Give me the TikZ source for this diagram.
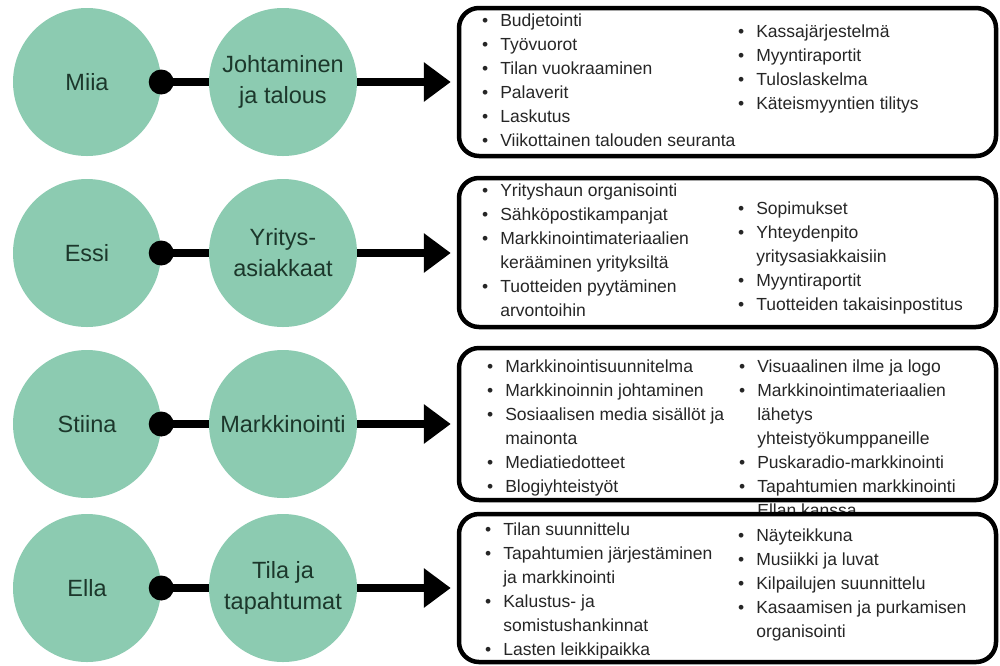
\documentclass[tikz,border=0pt]{standalone}
\usepackage{fontspec}
\setmainfont{Liberation Sans}
\usetikzlibrary{arrows.meta}
\definecolor{mint}{HTML}{8CCBB1}
\definecolor{circtext}{HTML}{1C372B}
\definecolor{listtext}{HTML}{262626}
\newcommand{\itm}[1]{\textbullet & #1\\}
\newcommand{\cnt}[1]{ & #1\\}
\newenvironment{blist}{\begin{tabular}[t]{@{}l@{\hspace{12pt}}l@{}}}{\end{tabular}}
\begin{document}
\begin{tikzpicture}[x=1pt,y=-1pt,
  person/.style={circle,fill=mint,minimum size=148pt,inner sep=0pt,text=circtext,
    font=\fontsize{23.5}{31}\selectfont,align=center},
  task/.style={person},
  listbox/.style={draw=black,line width=4.5pt,rounded corners=20pt,fill=white,minimum width=537pt},
  lst/.style={anchor=base west,inner sep=0pt,text=listtext,font=\fontsize{17.5}{24}\selectfont},
  link/.style={line width=8.5pt},
  arr/.style={line width=8.5pt,-{Triangle[length=27pt,width=38pt]},shorten >=6pt}]
\useasboundingbox (0,0) rectangle (1000,665);
\fill[white] (0,0) rectangle (1000,665);

% row 1
\node[person] (m1) at (87,82) {Miia};
\node[task] (j1) at (283,82) {Johtaminen\\ja talous};
\node[listbox,minimum height=148pt] (b1) at (727.5,82) {};
\draw[link] (m1.east) -- (j1.west);
\fill (m1.east) circle (12.5pt);
\draw[arr] (j1.east) -- (j1.east -| b1.west);
\node[lst] (b1l) at (482,26) {\begin{blist}
\itm{Budjetointi}
\itm{Työvuorot}
\itm{Tilan vuokraaminen}
\itm{Palaverit}
\itm{Laskutus}
\itm{Viikottainen talouden seuranta}
\end{blist}};
\node[lst] (b1r) at (738,37) {\begin{blist}
\itm{Kassajärjestelmä}
\itm{Myyntiraportit}
\itm{Tuloslaskelma}
\itm{Käteismyyntien tilitys}
\end{blist}};

% row 2
\node[person] (m2) at (87,253) {Essi};
\node[task] (j2) at (283,253) {Yritys-\\asiakkaat};
\node[listbox,minimum height=149pt] (b2) at (727.5,252.5) {};
\draw[link] (m2.east) -- (j2.west);
\fill (m2.east) circle (12.5pt);
\draw[arr] (j2.east) -- (j2.east -| b2.west);
\node[lst] (b2l) at (482,196) {\begin{blist}
\itm{Yrityshaun organisointi}
\itm{Sähköpostikampanjat}
\itm{Markkinointimateriaalien}
\cnt{kerääminen yrityksiltä}
\itm{Tuotteiden pyytäminen}
\cnt{arvontoihin}
\end{blist}};
\node[lst] (b2r) at (738,214) {\begin{blist}
\itm{Sopimukset}
\itm{Yhteydenpito}
\cnt{yritysasiakkaisiin}
\itm{Myyntiraportit}
\itm{Tuotteiden takaisinpostitus}
\end{blist}};

% row 3
\node[person] (m3) at (87,424) {Stiina};
\node[task] (j3) at (283,424) {Markkinointi};
\node[listbox,minimum height=152pt] (b3) at (727.5,424) {};
\draw[link] (m3.east) -- (j3.west);
\fill (m3.east) circle (12.5pt);
\draw[arr] (j3.east) -- (j3.east -| b3.west);
\node[lst] (b3l) at (487,372) {\begin{blist}
\itm{Markkinointisuunnitelma}
\itm{Markkinoinnin johtaminen}
\itm{Sosiaalisen media sisällöt ja}
\cnt{mainonta}
\itm{Mediatiedotteet}
\itm{Blogiyhteistyöt}
\end{blist}};
\node[lst] (b3r) at (739,372) {\begin{blist}
\itm{Visuaalinen ilme ja logo}
\itm{Markkinointimateriaalien}
\cnt{lähetys}
\cnt{yhteistyökumppaneille}
\itm{Puskaradio-markkinointi}
\itm{Tapahtumien markkinointi}
\cnt{Ellan kanssa}
\end{blist}};

% row 4
\node[person] (m4) at (87,588) {Ella};
\node[task] (j4) at (283,588) {Tila ja\\tapahtumat};
\node[listbox,minimum height=148pt] (b4) at (727.5,588) {};
\draw[link] (m4.east) -- (j4.west);
\fill (m4.east) circle (12.5pt);
\draw[arr] (j4.east) -- (j4.east -| b4.west);
\node[lst] (b4l) at (485,535) {\begin{blist}
\itm{Tilan suunnittelu}
\itm{Tapahtumien järjestäminen}
\cnt{ja markkinointi}
\itm{Kalustus- ja}
\cnt{somistushankinnat}
\itm{Lasten leikkipaikka}
\end{blist}};
\node[lst] (b4r) at (738,541) {\begin{blist}
\itm{Näyteikkuna}
\itm{Musiikki ja luvat}
\itm{Kilpailujen suunnittelu}
\itm{Kasaamisen ja purkamisen}
\cnt{organisointi}
\end{blist}};
\end{tikzpicture}
\end{document}
